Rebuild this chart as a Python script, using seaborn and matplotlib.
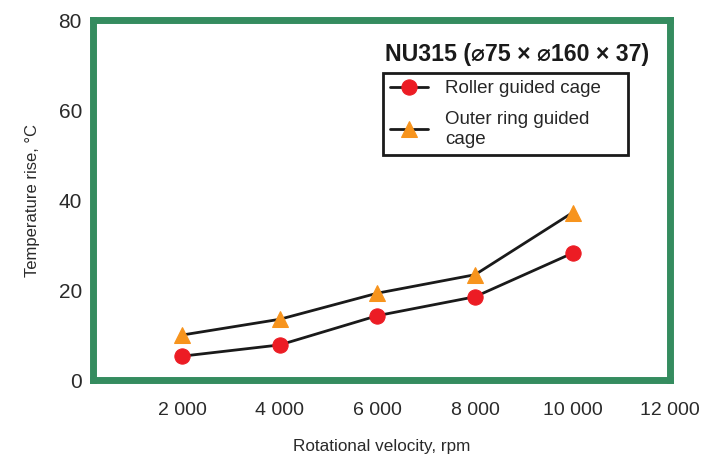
import matplotlib
matplotlib.use("Agg")
import matplotlib.pyplot as plt
import seaborn as sns
import pandas as pd

# ---------------- data ----------------
rpm = [2000, 4000, 6000, 8000, 10000]
roller_guided = [5.3, 7.8, 14.3, 18.5, 28.2]
outer_ring_guided = [10.0, 13.5, 19.3, 23.4, 37.2]

x_ticks = [2000, 4000, 6000, 8000, 10000, 12000]
x_tick_labels = ["2 000", "4 000", "6 000", "8 000", "10 000", "12 000"]
y_ticks = [0, 20, 40, 60, 80]

GREEN = "#358c5f"
RED = "#ec1c24"
ORANGE = "#f7941d"

sns.set_style("white")
plt.rcParams["font.family"] = ["Liberation Sans", "DejaVu Sans"]

df = pd.DataFrame({
    "rpm": rpm,
    "roller": roller_guided,
    "outer": outer_ring_guided,
})

fig = plt.figure(figsize=(7.03, 4.58), dpi=100)
ax = fig.add_axes([0.1323, 0.1703, 0.821, 0.786])

sns.lineplot(data=df, x="rpm", y="roller", ax=ax, color="#1a1a1a", lw=2,
             marker="o", markersize=11, markerfacecolor=RED, markeredgecolor=RED,
             label="Roller guided cage")
sns.lineplot(data=df, x="rpm", y="outer", ax=ax, color="#1a1a1a", lw=2,
             marker="^", markersize=11, markerfacecolor=ORANGE, markeredgecolor=ORANGE,
             label="Outer ring guided\ncage")

ax.set_xlim(170, 12000)
ax.set_ylim(0, 80)

# green thick frame
for s in ax.spines.values():
    s.set_visible(True)
    s.set_color(GREEN)
    s.set_linewidth(5)

ax.set_xticks(x_ticks)
ax.set_xticklabels(x_tick_labels)
ax.set_yticks(y_ticks)
ax.tick_params(axis="x", direction="in", length=9, width=1.8, color=GREEN,
               labelsize=14, pad=16, labelcolor="#2a2a2a")
ax.tick_params(axis="y", direction="in", length=5, width=1.8, color=GREEN,
               labelsize=15, pad=8, labelcolor="#2a2a2a")
ax.xaxis.get_major_ticks()[-1].tick1line.set_visible(False)

ax.set_xlabel("Rotational velocity, rpm", fontsize=12.3, labelpad=14, color="#2a2a2a")
ax.set_ylabel("Temperature rise, °C", fontsize=12, labelpad=13, color="#2a2a2a")

ax.text(0.506, 0.905, "NU315 (⌀75 × ⌀160 × 37)", transform=ax.transAxes,
        fontsize=16.7, fontweight="bold", ha="left", va="center", color="#1a1a1a")

leg = ax.legend(loc="upper left", bbox_to_anchor=(0.503, 0.628, 0.424, 0.225),
                mode="expand", fontsize=13.5,
                frameon=True, fancybox=False, edgecolor="#1a1a1a",
                handlelength=2.0, handletextpad=0.9, borderpad=0.38,
                labelspacing=0.75, borderaxespad=0)
leg.get_frame().set_linewidth(2)
leg.get_frame().set_alpha(1)

plt.savefig("out.png", dpi=100)
plt.close()
